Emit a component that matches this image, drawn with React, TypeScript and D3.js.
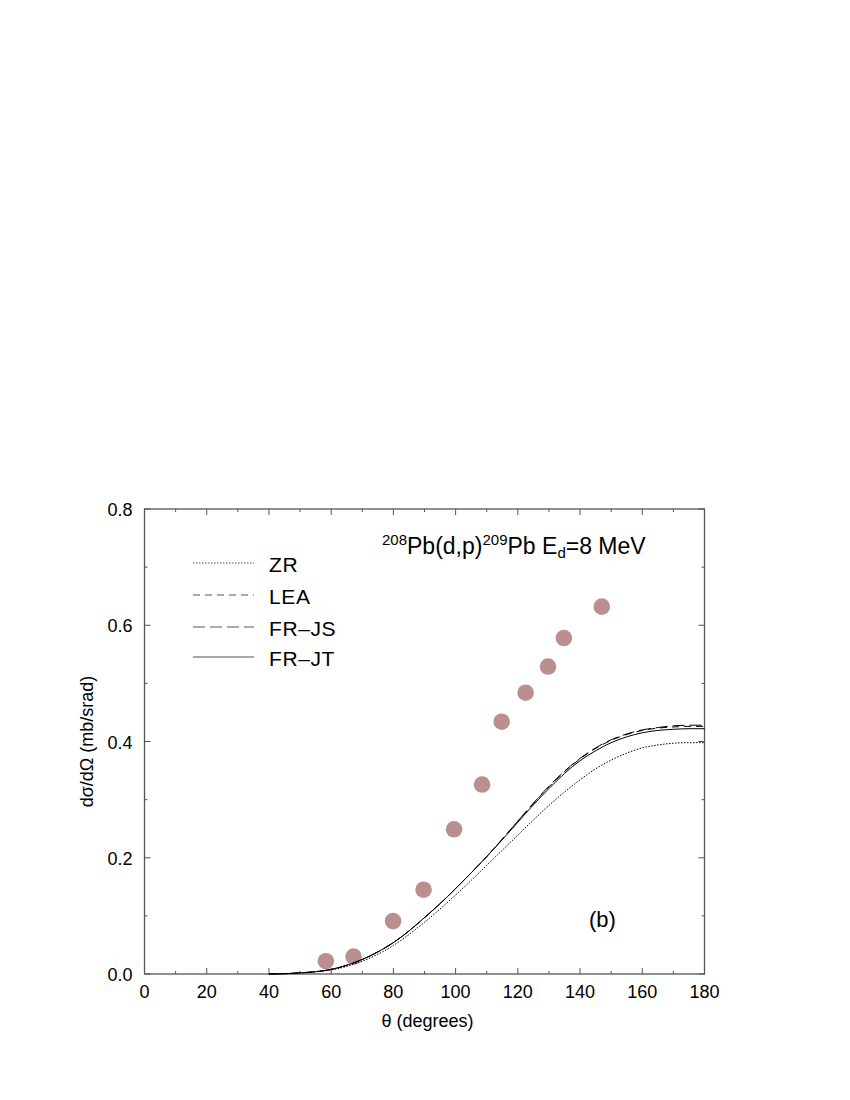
import React, { useEffect, useRef } from "react";
import * as d3 from "d3";

const angles = [40, 45, 50, 55, 60, 65, 70, 75, 80, 85, 90, 95, 100, 105, 110, 115, 120, 125, 130, 135, 140, 145, 150, 155, 160, 165, 170, 175, 180];
const zr = [0, 0.0004, 0.0015, 0.0035, 0.007, 0.013, 0.022, 0.034, 0.049, 0.068, 0.089, 0.112, 0.136, 0.161, 0.187, 0.213, 0.239, 0.265, 0.29, 0.313, 0.334, 0.353, 0.368, 0.38, 0.389, 0.394, 0.397, 0.398, 0.398];
const lea = [0, 0.0005, 0.002, 0.004, 0.008, 0.015, 0.025, 0.038, 0.054, 0.074, 0.097, 0.121, 0.147, 0.174, 0.202, 0.232, 0.263, 0.293, 0.322, 0.348, 0.37, 0.388, 0.402, 0.412, 0.419, 0.423, 0.425, 0.426, 0.426];
const frjs = [0, 0.0005, 0.002, 0.004, 0.008, 0.015, 0.025, 0.038, 0.054, 0.074, 0.097, 0.121, 0.147, 0.174, 0.202, 0.232, 0.263, 0.294, 0.323, 0.349, 0.371, 0.389, 0.403, 0.413, 0.42, 0.424, 0.427, 0.428, 0.428];
const frjt = [0, 0.0005, 0.002, 0.004, 0.008, 0.015, 0.025, 0.038, 0.054, 0.074, 0.097, 0.121, 0.147, 0.174, 0.202, 0.231, 0.261, 0.291, 0.319, 0.345, 0.367, 0.384, 0.398, 0.408, 0.415, 0.419, 0.421, 0.422, 0.422];

// experimental points
const expAngle = [58.3, 67.2, 79.9, 89.7, 99.5, 108.5, 114.8, 122.5, 129.7, 134.8, 147.0];
const expValue = [0.022, 0.03, 0.091, 0.145, 0.249, 0.326, 0.434, 0.484, 0.529, 0.578, 0.632];

const legendNames = ["ZR", "LEA", "FR\u2013JS", "FR\u2013JT"];
const xTickLabels = [0, 20, 40, 60, 80, 100, 120, 140, 160, 180];
const yTickLabels = [0, 0.2, 0.4, 0.6, 0.8];

const dashes = ["1.5,1.5", "7,5", "12,5", null];
const seriesList = [zr, lea, frjs, frjt];

const App = () => {
  const ref = useRef<SVGSVGElement>(null);

  useEffect(() => {
    const svg = d3.select(ref.current);
    svg.selectAll("*").remove();

    const left = 144.5, right = 704.5, top = 509, bottom = 974;
    const x = d3.scaleLinear().domain([0, 180]).range([left, right]);
    const y = d3.scaleLinear().domain([0, 0.8]).range([bottom, top]);
    const font = "'Liberation Sans', Arial, sans-serif";

    const g = svg.append("g");

    // ticks on all four sides, pointing inward
    const xMinor = d3.range(0, 181, 10);
    const yMinor = d3.range(0, 0.81, 0.1);
    xMinor.forEach((v, i) => {
      const len = i % 2 === 0 ? 6 : 3;
      g.append("line").attr("x1", x(v)).attr("x2", x(v)).attr("y1", bottom).attr("y2", bottom - len)
        .attr("stroke", "#555").attr("stroke-width", 1);
      g.append("line").attr("x1", x(v)).attr("x2", x(v)).attr("y1", top).attr("y2", top + len)
        .attr("stroke", "#555").attr("stroke-width", 1);
    });
    yMinor.forEach((v, i) => {
      const len = i % 2 === 0 ? 6 : 3;
      g.append("line").attr("x1", left).attr("x2", left + len).attr("y1", y(v)).attr("y2", y(v))
        .attr("stroke", "#555").attr("stroke-width", 1);
      g.append("line").attr("x1", right).attr("x2", right - len).attr("y1", y(v)).attr("y2", y(v))
        .attr("stroke", "#555").attr("stroke-width", 1);
    });

    g.append("rect").attr("x", left).attr("y", top).attr("width", right - left).attr("height", bottom - top)
      .attr("fill", "none").attr("stroke", "#555").attr("stroke-width", 1.3);

    // tick labels
    g.selectAll(".xl").data(xTickLabels).join("text")
      .attr("x", (d) => x(d)).attr("y", bottom + 24)
      .attr("text-anchor", "middle").attr("font-family", font).attr("font-size", 18)
      .text((d) => String(d));
    g.selectAll(".yl").data(yTickLabels).join("text")
      .attr("x", left - 12).attr("y", (d) => y(d) + 7)
      .attr("text-anchor", "end").attr("font-family", font).attr("font-size", 18)
      .text((d) => d.toFixed(1));

    // axis titles
    g.append("text").attr("x", (left + right) / 2 + 3).attr("y", bottom + 53)
      .attr("text-anchor", "middle").attr("font-family", font).attr("font-size", 18)
      .text("\u03b8 (degrees)");
    g.append("text").attr("transform", `translate(93, ${(top + bottom) / 2}) rotate(-90)`)
      .attr("text-anchor", "middle").attr("font-family", font).attr("font-size", 18)
      .text("d\u03c3/d\u03a9 (mb/srad)");

    // experimental points
    g.selectAll(".pt").data(expAngle).join("circle")
      .attr("cx", (d) => x(d)).attr("cy", (d, i) => y(expValue[i])).attr("r", 8.3)
      .attr("fill", "#bc8f8f");

    // curves
    const line = d3.line<number>().x((d, i) => x(angles[i])).y((d) => y(d)).curve(d3.curveMonotoneX);
    seriesList.forEach((s, i) => {
      g.append("path").attr("d", line(s)).attr("fill", "none").attr("stroke", "#000")
        .attr("stroke-width", 1).attr("stroke-dasharray", dashes[i]);
    });

    // legend
    const legendY = [563, 595, 627, 657];
    legendNames.forEach((name, i) => {
      g.append("line").attr("x1", 193).attr("x2", 254).attr("y1", legendY[i]).attr("y2", legendY[i])
        .attr("stroke", "#555").attr("stroke-width", 1.2).attr("stroke-dasharray", dashes[i]);
      g.append("text").attr("x", 269).attr("y", legendY[i] + 8.5).attr("font-family", font)
        .attr("font-size", 21).attr("letter-spacing", 0.6).text(name);
    });

    // reaction label
    const title = g.append("text").attr("x", 382).attr("y", 554).attr("font-family", font).attr("font-size", 23);
    title.append("tspan").attr("font-size", 15).attr("dy", -9).text("208");
    title.append("tspan").attr("dy", 9).text("Pb(d,p)");
    title.append("tspan").attr("font-size", 15).attr("dy", -9).text("209");
    title.append("tspan").attr("dy", 9).text("Pb E");
    title.append("tspan").attr("font-size", 15).attr("dy", 4).text("d");
    title.append("tspan").attr("dy", -4).text("=8 MeV");

    g.append("text").attr("x", 589).attr("y", 927).attr("font-family", font).attr("font-size", 22).text("(b)");
  });

  return (
    <svg ref={ref} width={850} height={1100}
      style={{ position: "absolute", left: 0, top: 0, background: "#fff" }}></svg>
  );
};

export default App;
